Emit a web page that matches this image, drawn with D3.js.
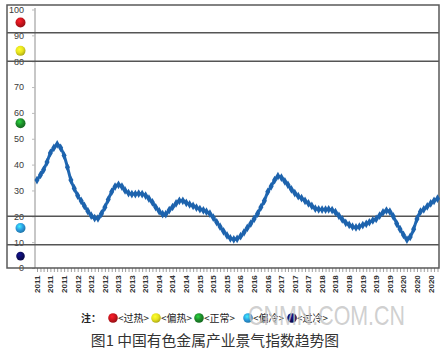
<!DOCTYPE html>
<html>
<head>
<meta charset="utf-8">
<script src="https://cdn.jsdelivr.net/npm/d3@7"></script>
<style>
  body { margin: 0; background: #fff; }
  svg { display: block; }
</style>
</head>
<body>
<svg id="chart" width="445" height="352"></svg>
<script>
// monthly index, Jan 2011 .. Nov 2020
const startMonth = new Date(2011, 0, 1);
const endMonth = new Date(2020, 10, 1);
const indexValues = [
  34, 36, 38, 41, 44.5, 46.5, 47.8, 46.5, 43.5, 39,
  34, 30.8, 28, 26, 24, 22, 20.3, 19.3, 19.2, 21,
  23.5, 26.5, 29.5, 31.5, 32.2, 31.5, 30, 29, 28.6, 28.6,
  28.8, 28.6, 28, 26.8, 25.4, 23.5, 22, 20.8, 20.8, 22.4,
  23.6, 25, 26, 26, 25.2, 24.6, 24, 23.4, 22.8, 22.3,
  21.8, 21, 19.5, 17.7, 16, 14.2, 12.6, 11.5, 11.1, 11.3,
  12.3, 13.8, 15.5, 17.2, 19, 21, 23.5, 26, 29.5, 31.6,
  34, 35.5, 35, 33.5, 32.2, 30.4, 29, 27.8, 27, 26,
  25, 24, 23, 22.7, 22.6, 22.6, 22.7, 22.4, 21.6, 20.2,
  18.8, 17.5, 16.7, 16, 15.7, 16, 16.6, 17.1, 17.7, 18.4,
  19, 20.3, 21.5, 22.2, 21.8, 20, 17.2, 15, 12.8, 11,
  12, 15, 19, 21.8, 22.7, 23.8, 25, 26, 26.8
];
const tickLabels = [
  '2011', '2011', '2011', '2012', '2012', '2012', '2013', '2013', '2013', '2014',
  '2014', '2014', '2015', '2015', '2015', '2016', '2016', '2016', '2017', '2017',
  '2017', '2018', '2018', '2018', '2019', '2019', '2019', '2020', '2020', '2020'
];
const yTicks = [0, 10, 20, 30, 40, 50, 60, 70, 80, 90, 100];
const bandLines = [91, 80, 20, 9];
const zoneNames = ['过热', '偏热', '正常', '偏冷', '过冷'];
const zoneColors = ['#c8141c', '#e6e21e', '#1c8c2a', '#2a9ce0', '#0c0c62'];
const zoneMarks = [95, 84, 56, 15.5, 4.6];

const months = d3.timeMonth.range(startMonth, d3.timeMonth.offset(endMonth, 1));
const series = months.map((d, i) => ({ date: d, value: indexValues[i] }));

const svg = d3.select('#chart');
const frame = { left: 7, top: 5, right: 439, bottom: 268 };

const x = d3.scaleTime()
  .domain([startMonth, endMonth])
  .range([37, 437.5]);
const y = d3.scaleLinear()
  .domain([0, 100])
  .range([268, 9.5]);

// gradients for the shiny dots
const defs = svg.append('defs');
zoneColors.forEach((c, i) => {
  const g = defs.append('radialGradient')
    .attr('id', 'ball' + i)
    .attr('cx', '40%').attr('cy', '35%').attr('r', '65%');
  g.append('stop').attr('offset', '0%').attr('stop-color', d3.color(c).brighter(1.2));
  g.append('stop').attr('offset', '55%').attr('stop-color', c);
  g.append('stop').attr('offset', '100%').attr('stop-color', d3.color(c).darker(0.8));
});

// y axis line + labels
svg.append('line')
  .attr('x1', 35).attr('x2', 35)
  .attr('y1', 8).attr('y2', frame.bottom)
  .attr('stroke', '#b4b4b4').attr('stroke-width', 1.5);

const yAxis = d3.axisLeft(y).tickValues(yTicks).tickSize(3).tickPadding(8);
const gy = svg.append('g').attr('transform', 'translate(35,0)').call(yAxis);
gy.select('.domain').remove();
gy.selectAll('line').attr('stroke', '#bbb');
gy.selectAll('text')
  .attr('fill', '#3a3a3a')
  .attr('font-family', 'Liberation Sans, Arial, sans-serif')
  .attr('font-size', 9);

// month ticks under the axis
const xMinor = d3.axisBottom(x).tickValues(months).tickSize(4).tickFormat('');
const gx = svg.append('g').attr('transform', `translate(0,${frame.bottom})`).call(xMinor);
gx.select('.domain').remove();
gx.selectAll('line').attr('stroke', '#888').attr('stroke-width', 0.8);

const labelMonths = months.filter((d, i) => i % 4 === 0);
svg.append('g').selectAll('text')
  .data(labelMonths)
  .join('text')
  .attr('transform', d => `translate(${x(d)},293) rotate(-90)`)
  .attr('dy', '0.35em')
  .attr('font-family', 'Liberation Sans, Arial, sans-serif')
  .attr('font-size', 8)
  .attr('font-weight', 'bold')
  .attr('fill', '#333')
  .text((d, i) => tickLabels[i]);

// zone boundary lines
svg.append('g').selectAll('line')
  .data(bandLines)
  .join('line')
  .attr('x1', frame.left).attr('x2', frame.right)
  .attr('y1', d => y(d)).attr('y2', d => y(d))
  .attr('stroke', '#555').attr('stroke-width', 1.5);

// frame
svg.append('path')
  .attr('d', `M${frame.left},${frame.bottom}V${frame.top}H${frame.right}V${frame.bottom}Z`)
  .attr('fill', 'none')
  .attr('stroke', '#5a5a5a')
  .attr('stroke-width', 1.5);

// zone dots on the left
svg.append('g').selectAll('circle')
  .data(zoneMarks)
  .join('circle')
  .attr('cx', 20.5)
  .attr('cy', d => y(d))
  .attr('r', (d, i) => i === 4 ? 4.3 : 5)
  .attr('fill', (d, i) => `url(#ball${i})`);

// the index line
const line = d3.line().x(d => x(d.date)).y(d => y(d.value)).curve(d3.curveMonotoneX);
svg.append('path')
  .datum(series)
  .attr('d', line)
  .attr('fill', 'none')
  .attr('stroke', '#2067b2')
  .attr('stroke-width', 3);

svg.append('g').selectAll('path')
  .data(series)
  .join('path')
  .attr('transform', d => `translate(${x(d.date)},${y(d.value)})`)
  .attr('d', d3.symbol(d3.symbolDiamond, 22))
  .attr('fill', '#1d63ad');

// legend note
const legend = svg.append('g')
  .attr('font-family', 'Noto Sans CJK SC, sans-serif')
  .attr('font-size', 10)
  .attr('fill', '#222');
legend.append('text').attr('x', 81).attr('y', 322).attr('font-weight', 'bold').text('注：');
const legendX = [113, 156, 199, 248, 292];
zoneNames.forEach((name, i) => {
  legend.append('circle')
    .attr('cx', legendX[i]).attr('cy', 318).attr('r', 4.8)
    .attr('fill', `url(#ball${i})`);
  legend.append('text')
    .attr('x', legendX[i] + 5).attr('y', 322)
    .text('<' + name + '>');
});

// watermark
svg.append('text')
  .attr('x', 248).attr('y', 325)
  .attr('font-family', 'Liberation Sans, Arial, sans-serif')
  .attr('font-size', 28)
  .attr('textLength', 157)
  .attr('lengthAdjust', 'spacingAndGlyphs')
  .attr('fill', '#c4c4c4')
  .attr('fill-opacity', 0.8)
  .text('CNMN.COM.CN');

// caption
svg.append('text')
  .attr('x', 215).attr('y', 346)
  .attr('text-anchor', 'middle')
  .attr('font-family', 'Noto Sans CJK SC, sans-serif')
  .attr('font-size', 14.8)
  .attr('fill', '#333')
  .text('图1 中国有色金属产业景气指数趋势图');
</script>
</body>
</html>
